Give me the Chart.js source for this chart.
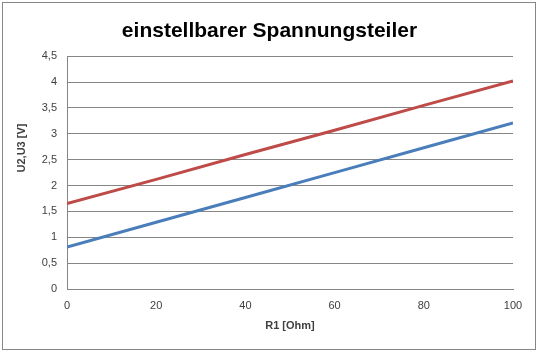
<!DOCTYPE html>
<html>
<head>
<meta charset="utf-8">
<script src="https://cdn.jsdelivr.net/npm/chart.js@4/dist/chart.umd.min.js"></script>
<style>
  body { margin: 0; background: #fff; }
  #wrap { width: 539px; height: 353px; }
</style>
</head>
<body>
<div id="wrap"><canvas id="chart" width="539" height="353"></canvas></div>
<script>
// data
const r1Values = [0, 20, 40, 60, 80, 100];
const u2Values = [0.81, 1.29, 1.77, 2.25, 2.73, 3.21];
const u3Values = [1.65, 2.12, 2.60, 3.07, 3.55, 4.02];
const chartTitle = 'einstellbarer Spannungsteiler';
const xTitle = 'R1 [Ohm]';
const yTitle = 'U2,U3 [V]';

const toPoints = (xs, ys) => xs.map((x, i) => ({ x: x, y: ys[i] }));

// outer frame, centred title and the y axis title (Excel puts it a bit above centre)
const frame = {
    id: 'frame',
    afterLayout(chart) {
        const t = chart.titleBlock;
        if (t) { t.left = 0; t.right = chart.width; t.width = chart.width; }
    },
    beforeDraw(chart) {
        const c = chart.ctx;
        c.save();
        c.fillStyle = '#fff';
        c.fillRect(0, 0, chart.width, chart.height);
        c.strokeStyle = '#868686';
        c.lineWidth = 1;
        c.strokeRect(2.5, 2.5, 533, 347);
        c.restore();
    },
    afterDraw(chart) {
        const c = chart.ctx;
        c.save();
        c.translate(22, 148);
        c.rotate(-Math.PI / 2);
        c.fillStyle = '#404040';
        c.font = 'bold 11px "Liberation Sans"';
        c.textAlign = 'center';
        c.textBaseline = 'middle';
        c.fillText(yTitle, 0, 0);
        c.restore();
    }
};

const ctx = document.getElementById('chart').getContext('2d');

new Chart(ctx, {
    type: 'line',
    data: {
        datasets: [{
            label: 'U2',
            data: toPoints(r1Values, u2Values),
            borderColor: '#4A7EBB',
            borderWidth: 3,
            pointRadius: 0,
            fill: false
        }, {
            label: 'U3',
            data: toPoints(r1Values, u3Values),
            borderColor: '#BE4B48',
            borderWidth: 3,
            pointRadius: 0,
            fill: false
        }]
    },
    options: {
        responsive: false,
        animation: false,
        layout: { padding: { left: 0, right: 26, top: 0, bottom: 0 } },
        plugins: {
            legend: { display: false },
            tooltip: { enabled: false },
            title: {
                display: true,
                text: chartTitle,
                color: '#000',
                font: { family: 'Liberation Sans', size: 21, weight: 'bold' },
                padding: { top: 19, bottom: 12 }
            }
        },
        scales: {
            x: {
                type: 'linear',
                min: 0,
                max: 100,
                afterFit: (s) => { s.height = 64; },
                grid: { display: false, drawTicks: false },
                border: { display: true, color: '#868686' },
                ticks: {
                    stepSize: 20,
                    padding: 10,
                    color: '#404040',
                    font: { family: 'Liberation Sans', size: 11 }
                },
                title: {
                    display: true,
                    text: xTitle,
                    color: '#404040',
                    font: { family: 'Liberation Sans', size: 11, weight: 'bold' },
                    padding: { top: 0, bottom: 20 }
                }
            },
            y: {
                min: 0,
                max: 4.5,
                afterFit: (s) => { s.width = 67; },
                grid: { color: '#868686', drawTicks: false },
                border: { display: true, color: '#868686' },
                ticks: {
                    stepSize: 0.5,
                    padding: 10,
                    color: '#404040',
                    font: { family: 'Liberation Sans', size: 11 },
                    callback: (v) => String(v).replace('.', ',')
                },
                title: { display: false }
            }
        }
    },
    plugins: [frame]
});
</script>
</body>
</html>
